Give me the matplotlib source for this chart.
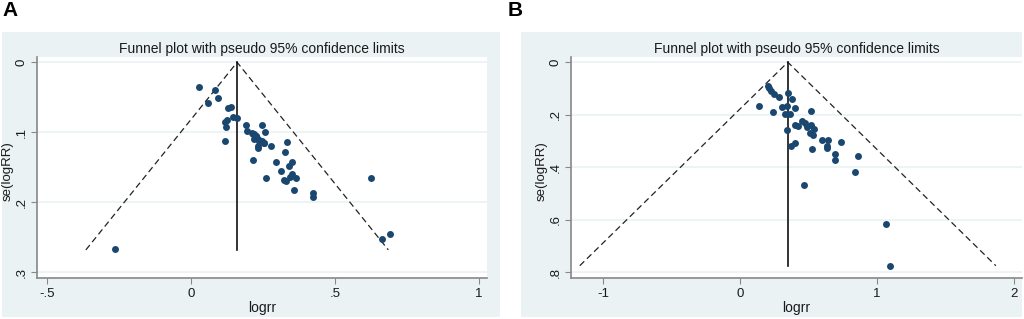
import matplotlib.pyplot as plt
import numpy as np

plt.rcParams['font.family'] = ['Liberation Sans', 'DejaVu Sans']

# panel A data (logrr, se(logRR))
a_logrr = [0.027, 0.084, 0.058, 0.092, 0.130, 0.138, 0.146, 0.161, 0.119, 0.125,
           0.120, 0.118, 0.190, 0.196, 0.245, 0.256, 0.216, 0.225, 0.231, 0.240,
           0.252, 0.233, 0.233, 0.277, 0.332, 0.325, 0.214, 0.296, 0.352, 0.341,
           0.313, 0.260, 0.322, 0.331, 0.344, 0.352, 0.366, 0.358, 0.422, 0.422,
           0.624, 0.662, 0.692, -0.263, 0.211, 0.219, 0.227, 0.219, 0.248, 0.254,
           0.236]
a_se = [0.035, 0.039, 0.058, 0.051, 0.065, 0.064, 0.078, 0.080, 0.085, 0.082,
        0.092, 0.112, 0.090, 0.098, 0.090, 0.100, 0.103, 0.106, 0.109, 0.112,
        0.116, 0.120, 0.123, 0.119, 0.114, 0.128, 0.140, 0.143, 0.142, 0.148,
        0.156, 0.166, 0.168, 0.170, 0.164, 0.160, 0.166, 0.182, 0.187, 0.193,
        0.166, 0.252, 0.246, 0.267, 0.101, 0.103, 0.105, 0.109, 0.112, 0.115,
        0.113]
a_pooled = 0.160
a_semax = 0.268
a_xticks = [-0.5, 0, 0.5, 1]
a_xlabels = ['-.5', '0', '.5', '1']
a_yticks = [0, 0.1, 0.2, 0.3]
a_ylabels = ['0', '.1', '.2', '.3']

# panel B data
b_logrr = [0.202, 0.212, 0.224, 0.248, 0.285, 0.350, 0.382, 0.141, 0.309, 0.341,
           0.401, 0.241, 0.521, 0.328, 0.365, 0.341, 0.401, 0.423, 0.455, 0.474,
           0.491, 0.516, 0.540, 0.511, 0.535, 0.401, 0.370, 0.528, 0.601, 0.645,
           0.637, 0.637, 0.735, 0.691, 0.691, 0.864, 0.844, 0.467, 1.066, 1.095]
b_se = [0.089, 0.099, 0.108, 0.122, 0.132, 0.118, 0.140, 0.165, 0.169, 0.166,
        0.173, 0.189, 0.187, 0.199, 0.199, 0.260, 0.241, 0.243, 0.223, 0.232,
        0.248, 0.239, 0.254, 0.270, 0.277, 0.306, 0.321, 0.330, 0.296, 0.296,
        0.319, 0.328, 0.305, 0.349, 0.372, 0.356, 0.419, 0.469, 0.618, 0.775]
b_pooled = 0.350
b_semax = 0.775
b_xticks = [-1, 0, 1, 2]
b_xlabels = ['-1', '0', '1', '2']
b_yticks = [0, 0.2, 0.4, 0.6, 0.8]
b_ylabels = ['0', '.2', '.4', '.6', '.8']

W, H = 1024, 319
fig = plt.figure(figsize=(W / 100, H / 100), dpi=100)
fig.patch.set_facecolor('white')

bg = '#eaf2f3'
dot = '#1a476f'
txt = '#1a1a1a'


def px(x0, y0, x1, y1):
    return [x0 / W, 1 - y1 / H, (x1 - x0) / W, (y1 - y0) / H]


def panel(box, ax_rect, x, se, pooled, semax, xlim, ylim,
          xticks, xlabels, yticks, ylabels, letter, letter_x, ylab_x):
    # light blue graph region behind the plot
    bga = fig.add_axes(px(*box), zorder=0)
    bga.set_facecolor(bg)
    bga.set_xticks([])
    bga.set_yticks([])
    for s in bga.spines.values():
        s.set_visible(False)

    ax = fig.add_axes(px(*ax_rect), zorder=1)
    ax.set_facecolor('white')
    for yt in yticks:
        ax.axhline(yt, color=bg, lw=1.2, zorder=0)
    lo = pooled - 1.96 * semax
    hi = pooled + 1.96 * semax
    ax.plot([lo, pooled, hi], [semax, 0, semax], color='#222222', lw=0.9,
            ls=(0, (5, 3)), zorder=2)
    ax.plot([pooled, pooled], [0, semax], color='#111111', lw=1.2, zorder=2)
    ax.plot(x, se, 'o', color=dot, markersize=5, markeredgewidth=0, zorder=3)
    ax.set_xlim(*xlim)
    ax.set_ylim(*ylim)
    ax.set_xticks(xticks)
    ax.set_xticklabels(xlabels, fontsize=9.5, color=txt)
    ax.set_yticks(yticks)
    ax.set_yticklabels(ylabels, fontsize=9.5, rotation=90, va='center',
                       color=txt)
    for s in ['top', 'right']:
        ax.spines[s].set_visible(False)
    for s in ['left', 'bottom']:
        ax.spines[s].set_color('#888888')
        ax.spines[s].set_linewidth(1.2)
    ax.tick_params(length=4, color='#888888', pad=3)
    ax.set_xlabel('logrr', fontsize=10, labelpad=1, color=txt)
    ax.set_title('Funnel plot with pseudo 95% confidence limits',
                 fontsize=10, pad=3, color=txt)
    fig.text(ylab_x / W, 1 - 171 / H, 'se(logRR)',
             rotation=90, fontsize=9.5, ha='center', va='center', zorder=5,
             color=txt)
    fig.text(letter_x / W, 1 - 11 / H, letter, fontsize=15,
             fontweight='bold', ha='left', va='center')
    return ax


panel((2, 32, 500, 317), (37.3, 56.7, 487, 278.3), a_logrr, a_se,
      a_pooled, a_semax, (-0.534, 1.028), (0.3086, -0.008),
      a_xticks, a_xlabels, a_yticks, a_ylabels, 'A', 2, 8)

panel((521, 32, 1022, 317), (571.3, 56.7, 1022, 278.3), b_logrr, b_se,
      b_pooled, b_semax, (-1.231, 2.06), (0.823, -0.021),
      b_xticks, b_xlabels, b_yticks, b_ylabels, 'B', 508, 542)

fig.savefig('out.png', dpi=100)
